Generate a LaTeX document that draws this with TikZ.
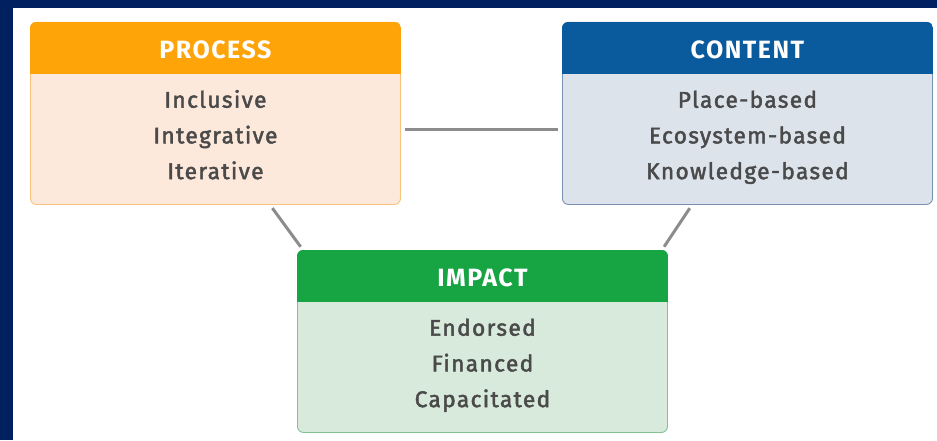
\documentclass[tikz,border=0pt]{standalone}
\usepackage{fontspec}
\setmainfont{Fira Sans}[LetterSpace=6]
\newfontfamily\hdrfont{Fira Sans}[LetterSpace=6]
\newfontfamily\medfont{Fira Sans}[LetterSpace=6, FakeBold=2]
\usepackage{xcolor}
\usetikzlibrary{positioning, calc}
\definecolor{navyframe}{HTML}{00205F}
\definecolor{procorange}{HTML}{FFA408}
\definecolor{procpeach}{HTML}{FDE8DC}
\definecolor{procedge}{HTML}{F7C27A}
\definecolor{contblue}{HTML}{0A5A9E}
\definecolor{contgrey}{HTML}{DDE3EB}
\definecolor{contedge}{HTML}{7891B0}
\definecolor{impgreen}{HTML}{17A544}
\definecolor{impmint}{HTML}{D7EADB}
\definecolor{impedge}{HTML}{86C195}
\definecolor{itemgrey}{HTML}{4A4A4A}
\definecolor{linkgrey}{HTML}{8C8C8C}
\tikzset{
  panel/.style={rectangle, rounded corners=6pt, draw=#1, line width=0.9pt, minimum width=370pt, minimum height=182pt, anchor=north west, inner sep=0pt},
  hdrtext/.style={font=\hdrfont\bfseries\fontsize{25}{29}\selectfont, text=white, inner sep=0pt, anchor=base},
  item/.style={font=\medfont\fontsize{22.7}{27}\selectfont, text=itemgrey, inner sep=0pt, anchor=base},
  link/.style={draw=linkgrey, line width=3pt, shorten <=4pt, shorten >=4pt},
}

\begin{document}
\begin{tikzpicture}[x=1pt, y=1pt]
  \useasboundingbox (0,0) rectangle (937,440);
  \fill[navyframe] (0,0) rectangle (937,440);
  \fill[white] (13,0) rectangle (937,432);

  % boxes
  \node[panel=procedge, fill=procpeach] (P) at (30,418) {};
  \node[panel=contedge, fill=contgrey] (C) at (562,418) {};
  \node[panel=impedge, fill=impmint] (I) at (297,190) {};

  % coloured headers
  \foreach \b/\c in {P/procorange, C/contblue, I/impgreen} {
    \begin{scope}
      \clip[rounded corners=6pt] (\b.north west) rectangle (\b.south east);
      \fill[\c] (\b.north west) rectangle ([yshift=-52pt]\b.north east);
    \end{scope}
  }

  \node[hdrtext] (Pt) at ([yshift=-36.5pt]P.north) {PROCESS};
  \node[hdrtext] (Ct) at ([yshift=-36.5pt]C.north) {CONTENT};
  \node[hdrtext] (It) at ([yshift=-36.5pt]I.north) {IMPACT};

  \foreach \t [count=\i] in {Inclusive, Integrative, Iterative}
    \node[item] (P\i) at ([yshift=-50pt-35.7pt*\i]P.north) {\t};
  \foreach \t [count=\i] in {Place-based, Ecosystem-based, Knowledge-based}
    \node[item] (C\i) at ([yshift=-50pt-35.7pt*\i]C.north) {\t};
  \foreach \t [count=\i] in {Endorsed, Financed, Capacitated}
    \node[item] (I\i) at ([yshift=-50pt-35.7pt*\i]I.north) {\t};

  % links
  \coordinate (hl) at (0,310);
  \draw[link] (P.east |- hl) -- (C.west |- hl);
  \draw[link] ([xshift=240pt]P.south west) -- ([xshift=6pt]I.north west);
  \draw[link] ([xshift=130pt]C.south west) -- ([xshift=-6pt]I.north east);
\end{tikzpicture}
\end{document}
